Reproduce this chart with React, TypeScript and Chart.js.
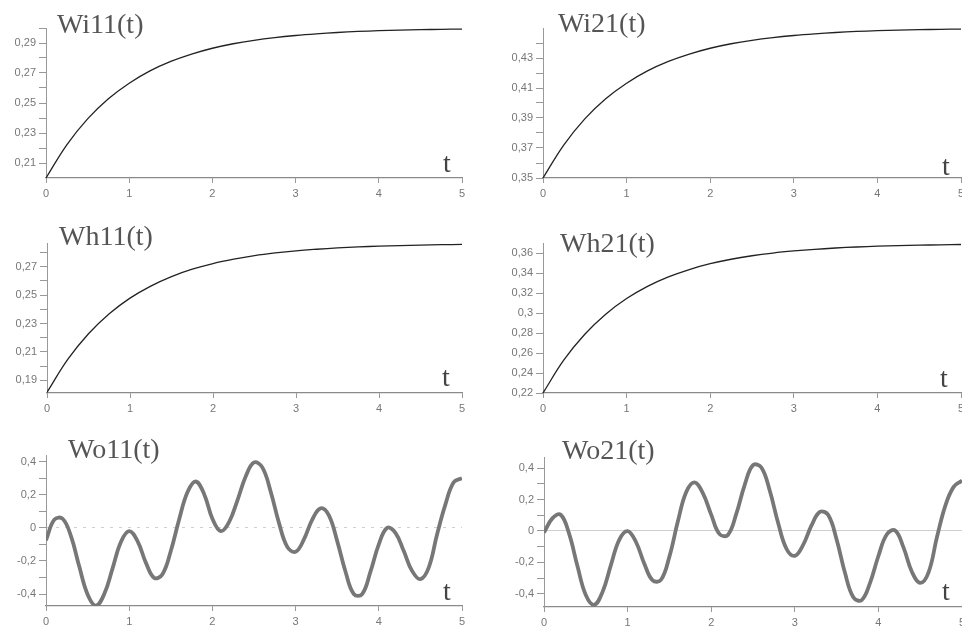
import React, { useEffect, useRef } from "react";
import { Chart, registerables } from "chart.js";

Chart.register(...registerables);

// ---------- data ----------
const tExp = [0, 0.25, 0.5, 0.75, 1, 1.25, 1.5, 1.75, 2, 2.25, 2.5, 2.75, 3, 3.25, 3.5, 3.75, 4, 4.25, 4.5, 4.75, 5];

const wi11 = [0.2, 0.2221, 0.2394, 0.2528, 0.2632, 0.2714, 0.2777, 0.2826, 0.2865, 0.2895, 0.2918, 0.2936, 0.295, 0.2961, 0.297, 0.2977, 0.2982, 0.2986, 0.2989, 0.2991, 0.2993];
const wi21 = [0.35, 0.3721, 0.3894, 0.4028, 0.4132, 0.4214, 0.4277, 0.4326, 0.4365, 0.4395, 0.4418, 0.4436, 0.445, 0.4461, 0.447, 0.4477, 0.4482, 0.4486, 0.4489, 0.4491, 0.4493];
const wh11 = [0.1815, 0.2047, 0.2228, 0.2369, 0.2479, 0.2564, 0.2631, 0.2683, 0.2723, 0.2754, 0.2779, 0.2798, 0.2813, 0.2824, 0.2833, 0.284, 0.2846, 0.285, 0.2853, 0.2856, 0.2858];
const wh21 = [0.22, 0.2532, 0.279, 0.2991, 0.3148, 0.327, 0.3365, 0.3439, 0.3497, 0.3542, 0.3577, 0.3604, 0.3625, 0.3642, 0.3655, 0.3665, 0.3673, 0.3679, 0.3683, 0.3687, 0.369];

const tWo = [0, 0.1, 0.2, 0.3, 0.4, 0.5, 0.6, 0.7, 0.8, 0.9, 1, 1.1, 1.2, 1.3, 1.4, 1.5, 1.6, 1.7, 1.8, 1.9, 2, 2.1, 2.2, 2.3, 2.4, 2.5, 2.6, 2.7, 2.8, 2.9, 3, 3.1, 3.2, 3.3, 3.4, 3.5, 3.6, 3.7, 3.8, 3.9, 4, 4.1, 4.2, 4.3, 4.4, 4.5, 4.6, 4.7, 4.8, 4.9, 5];

const wo11 = [
  -0.075, 0.05, 0.055, -0.05, -0.234, -0.402, -0.47, -0.4, -0.245, -0.085, -0.02,
  -0.08, -0.21, -0.302, -0.28, -0.14, 0.05, 0.215, 0.28, 0.205, 0.055,
  -0.02, 0.035, 0.165, 0.31, 0.395, 0.365, 0.22, 0.03, -0.115, -0.145,
  -0.07, 0.05, 0.118, 0.075, -0.08, -0.265, -0.4, -0.4, -0.265, -0.1,
  0.0, -0.03, -0.14, -0.26, -0.31, -0.24, -0.04, 0.14, 0.275, 0.3,
];
const wo21 = [
  -0.01, 0.08, 0.103, -0.017, -0.223, -0.407, -0.469, -0.388, -0.217, -0.056, -0.001,
  -0.07, -0.208, -0.314, -0.31, -0.163, 0.058, 0.246, 0.309, 0.241, 0.104,
  -0.02, -0.025, 0.108, 0.292, 0.418, 0.403, 0.257, 0.052, -0.113, -0.158,
  -0.088, 0.035, 0.121, 0.101, -0.054, -0.266, -0.421, -0.439, -0.33, -0.159,
  -0.022, 0.003, -0.104, -0.259, -0.33, -0.263, -0.04, 0.16, 0.28, 0.32,
];

const xTickValues = [0, 1, 2, 3, 4, 5];
const xTickLabels = ["0", "1", "2", "3", "4", "5"];

const wi11Major = [0.21, 0.23, 0.25, 0.27, 0.29];
const wi11Labels = ["0,21", "0,23", "0,25", "0,27", "0,29"];
const wi11Minor = [0.22, 0.24, 0.26, 0.28, 0.3];

const wi21Major = [0.35, 0.37, 0.39, 0.41, 0.43];
const wi21Labels = ["0,35", "0,37", "0,39", "0,41", "0,43"];
const wi21Minor = [0.36, 0.38, 0.4, 0.42, 0.44];

const wh11Major = [0.19, 0.21, 0.23, 0.25, 0.27];
const wh11Labels = ["0,19", "0,21", "0,23", "0,25", "0,27"];
const wh11Minor = [0.2, 0.22, 0.24, 0.26, 0.28];

const wh21Major = [0.22, 0.24, 0.26, 0.28, 0.3, 0.32, 0.34, 0.36];
const wh21Labels = ["0,22", "0,24", "0,26", "0,28", "0,3", "0,32", "0,34", "0,36"];
const wh21Minor: number[] = [];

const woMajor = [-0.4, -0.2, 0, 0.2, 0.4];
const woLabels = ["-0,4", "-0,2", "0", "0,2", "0,4"];
const woMinor = [-0.3, -0.1, 0.1, 0.3];

const titles = ["Wi11(t)", "Wi21(t)", "Wh11(t)", "Wh21(t)", "Wo11(t)", "Wo21(t)"];
const axisName = "t";

// ---------- layout / style ----------
const YW = 50;
const XH = 30;
const PT = 12;
const PR = 14;
const TITLE_SIZE = 28;

type PanelDef = {
  times: number[];
  values: number[];
  yMin: number;
  yMax: number;
  major: number[];
  labels: string[];
  minor: number[];
  rect: { l: number; t: number; r: number; b: number };
  lineColor: string;
  lineWidth: number;
  zero: null | "dash" | "solid";
  title: string;
  titlePos: { x: number; base: number };
  tPos: { x: number; base: number };
};

const panels: PanelDef[] = [
  { times: tExp, values: wi11, yMin: 0.2, yMax: 0.3, major: wi11Major, labels: wi11Labels, minor: wi11Minor,
    rect: { l: 46, t: 28, r: 462, b: 178 }, lineColor: "#222", lineWidth: 1.3, zero: null,
    title: titles[0], titlePos: { x: 57, base: 33 }, tPos: { x: 443, base: 172 } },
  { times: tExp, values: wi21, yMin: 0.35, yMax: 0.45, major: wi21Major, labels: wi21Labels, minor: wi21Minor,
    rect: { l: 543, t: 28, r: 961, b: 178 }, lineColor: "#222", lineWidth: 1.3, zero: null,
    title: titles[1], titlePos: { x: 558, base: 32 }, tPos: { x: 942, base: 175 } },
  { times: tExp, values: wh11, yMin: 0.181, yMax: 0.2868, major: wh11Major, labels: wh11Labels, minor: wh11Minor,
    rect: { l: 47, t: 243, r: 462, b: 393 }, lineColor: "#222", lineWidth: 1.3, zero: null,
    title: titles[2], titlePos: { x: 59, base: 245 }, tPos: { x: 442, base: 386 } },
  { times: tExp, values: wh21, yMin: 0.22, yMax: 0.3705, major: wh21Major, labels: wh21Labels, minor: wh21Minor,
    rect: { l: 543, t: 243, r: 961, b: 393 }, lineColor: "#222", lineWidth: 1.3, zero: null,
    title: titles[3], titlePos: { x: 560, base: 252 }, tPos: { x: 940, base: 387 } },
  { times: tWo, values: wo11, yMin: -0.472, yMax: 0.44, major: woMajor, labels: woLabels, minor: woMinor,
    rect: { l: 46, t: 455, r: 462, b: 606 }, lineColor: "#777", lineWidth: 3.8, zero: "dash",
    title: titles[4], titlePos: { x: 68, base: 458 }, tPos: { x: 443, base: 600 } },
  { times: tWo, values: wo21, yMin: -0.483, yMax: 0.47, major: woMajor, labels: woLabels, minor: woMinor,
    rect: { l: 544, t: 457, r: 962, b: 607 }, lineColor: "#777", lineWidth: 3.8, zero: "solid",
    title: titles[5], titlePos: { x: 562, base: 459 }, tPos: { x: 942, base: 600 } },
];

const near = (a: number, b: number) => Math.abs(a - b) < 1e-9;

function Panel({ p }: { p: PanelDef }) {
  const ref = useRef<HTMLCanvasElement | null>(null);
  const w = p.rect.r - p.rect.l + YW + PR;
  const h = p.rect.b - p.rect.t + PT + XH;

  useEffect(() => {
    if (!ref.current) return;
    const allY = [...p.major, ...p.minor].sort((a, b) => a - b);
    const chart = new Chart(ref.current, {
      type: "line",
      data: {
        datasets: [
          {
            data: p.times.map((t, i) => ({ x: t, y: p.values[i] })),
            borderColor: p.lineColor,
            borderWidth: p.lineWidth,
            pointRadius: 0,
            tension: 0.4,
            fill: false,
          },
        ],
      },
      options: {
        animation: false,
        responsive: false,
        events: [],
        layout: { padding: { left: 0, top: PT, right: PR, bottom: 0 } },
        plugins: { legend: { display: false }, tooltip: { enabled: false }, title: { display: false } },
        scales: {
          x: {
            type: "linear",
            min: 0,
            max: 5,
            afterBuildTicks: (s: any) => {
              s.ticks = xTickValues.map((v) => ({ value: v }));
            },
            afterFit: (s: any) => {
              s.height = XH;
            },
            ticks: {
              autoSkip: false,
              maxRotation: 0,
              color: "#777",
              padding: 4,
              font: { family: "Liberation Sans", size: 11 },
              callback: (v: any) => {
                const i = xTickValues.findIndex((x) => near(x, Number(v)));
                return i >= 0 ? xTickLabels[i] : "";
              },
            },
            grid: { drawOnChartArea: false, tickLength: 5, color: "#999", tickColor: "#999" },
            border: { color: "#8a8a8a", width: 1.2 },
          },
          y: {
            type: "linear",
            min: p.yMin,
            max: p.yMax,
            afterBuildTicks: (s: any) => {
              s.ticks = allY.map((v) => ({ value: v }));
            },
            afterFit: (s: any) => {
              s.width = YW;
            },
            ticks: {
              autoSkip: false,
              color: "#777",
              padding: 3,
              font: { family: "Liberation Sans", size: 11 },
              callback: (v: any) => {
                const i = p.major.findIndex((m) => near(m, Number(v)));
                return i >= 0 ? p.labels[i] : "";
              },
            },
            grid: {
              drawOnChartArea: !!p.zero,
              tickLength: 7,
              tickColor: "#999",
              lineWidth: 1,
              color: (ctx: any) =>
                p.zero && ctx.tick && near(ctx.tick.value, 0) ? "#cfcfcf" : "rgba(0,0,0,0)",
            },
            border: { color: "#999", width: 1, dash: p.zero === "dash" ? [3, 6] : [] },
          },
        },
      },
    } as any);
    return () => chart.destroy();
  }, []);

  return (
    <canvas
      ref={ref}
      width={w}
      height={h}
      style={{ position: "absolute", left: p.rect.l - YW, top: p.rect.t - PT, width: w, height: h }}
    />
  );
}

const textStyle = (x: number, base: number, color: string): React.CSSProperties => ({
  position: "absolute",
  left: x,
  top: base - 0.8375 * TITLE_SIZE,
  fontFamily: "'Liberation Serif', 'Times New Roman', serif",
  fontSize: TITLE_SIZE,
  lineHeight: TITLE_SIZE + "px",
  color,
  whiteSpace: "nowrap",
});

export default function App() {
  return (
    <div
      style={{
        position: "fixed",
        left: 0,
        top: 0,
        width: 962,
        height: 632,
        overflow: "hidden",
        background: "#fff",
      }}
    >
      {panels.map((p, i) => (
        <Panel key={i} p={p} />
      ))}
      {panels.map((p, i) => (
        <div key={"ti" + i} style={textStyle(p.titlePos.x, p.titlePos.base, "#555")}>
          {p.title}
        </div>
      ))}
      {panels.map((p, i) => (
        <div key={"t" + i} style={textStyle(p.tPos.x, p.tPos.base, "#444")}>
          {axisName}
        </div>
      ))}
    </div>
  );
}
